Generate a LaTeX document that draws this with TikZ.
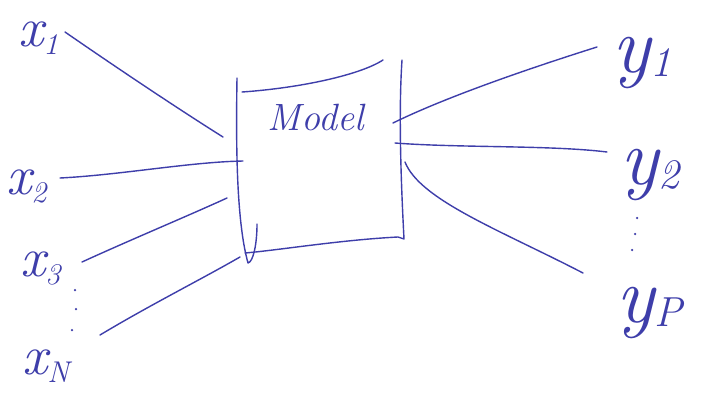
\documentclass[tikz,border=0pt]{standalone}
\usepackage{tikz}
\definecolor{ink}{RGB}{62,62,170}
\newcommand{\xlabel}[2]{\fontsize{56}{56}\selectfont\itshape #1\raisebox{-0.16em}{\fontsize{30}{30}\selectfont #2}}
\newcommand{\ylabel}[2]{\fontsize{80}{80}\selectfont\itshape #1\raisebox{-0.05em}{\fontsize{42}{42}\selectfont #2}}
\tikzset{
  pen/.style={draw=ink, line width=1.4pt, line cap=round, line join=round},
  lab/.style={text=ink, inner sep=0pt, anchor=base west},
  dotmark/.style={fill=ink, circle, inner sep=0pt, minimum size=2.5pt}
}
\begin{document}
\begin{tikzpicture}[x=1pt,y=-1pt]
\useasboundingbox[fill=white] (0,0) rectangle (704,397);
% labels
\node[lab] (x1) at (18,46) {\xlabel{x}{1}};
\node[lab] (x2) at (6,194) {\xlabel{x}{2}};
\node[lab] (x3) at (20,276) {\xlabel{x}{3}};
\node[lab] (xN) at (22,374) {\xlabel{x}{N}};
\node[lab] (y1) at (612,72) {\ylabel{y}{1}};
\node[lab] (y2) at (620,184) {\ylabel{y}{2}};
\node[lab] (yP) at (616,322) {\ylabel{y}{P}};
\node[dotmark] (d1) at (75,290) {};
\node[dotmark] (d2) at (76,309) {};
\node[dotmark] (d3) at (72,330) {};
\node[dotmark] (e1) at (637,218) {};
\node[dotmark] (e2) at (635,234) {};
\node[dotmark] (e3) at (632,250) {};
% box
\coordinate (tl) at (237,78);
\coordinate (tr) at (402,60);
\coordinate (br) at (404,239);
\coordinate (bl) at (248,263);
\draw[pen] (tl) .. controls (236,140) and (236,220) .. (bl) .. controls (253,262) and (257,245) .. (257,224);
\draw[pen] (242,92) .. controls (300,88) and (360,75) .. (383,60);
\draw[pen] (tr) .. controls (398,120) and (402,200) .. (br) -- (398,237) .. controls (340,240) and (280,250) .. (245,253);
\node[text=ink, font=\fontsize{38}{38}\selectfont\itshape] (model) at (316,117) {Model};
% input lines
\coordinate (i1) at (223,137);
\coordinate (i2) at (243,161);
\coordinate (i3) at (227,198);
\coordinate (i4) at (240,257);
\draw[pen] (65,32) .. controls (120,70) and (180,110) .. (i1);
\draw[pen] (60,178) .. controls (120,175) and (190,162) .. (i2);
\draw[pen] (82,262) .. controls (130,240) and (190,215) .. (i3);
\draw[pen] (100,335) .. controls (150,305) and (200,280) .. (i4);
% output lines
\coordinate (o1) at (393,123);
\coordinate (o2) at (395,143);
\coordinate (o3) at (405,162);
\draw[pen] (o1) .. controls (450,95) and (540,65) .. (597,47);
\draw[pen] (o2) .. controls (460,148) and (550,145) .. (607,152);
\draw[pen] (o3) .. controls (420,200) and (500,230) .. (583,273);
\end{tikzpicture}
\end{document}
